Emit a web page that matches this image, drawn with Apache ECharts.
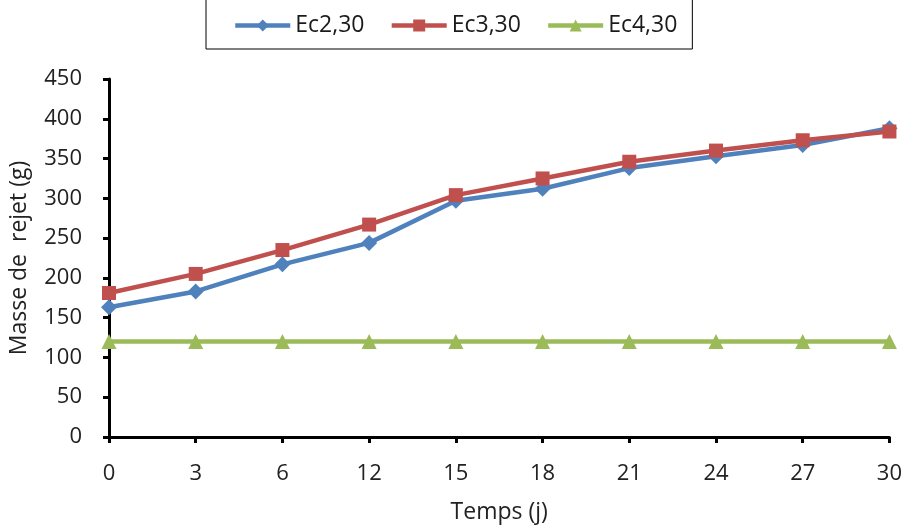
<!DOCTYPE html>
<html><head><meta charset="utf-8">
<script src="https://cdn.jsdelivr.net/npm/echarts@6/dist/echarts.min.js"></script>
<style>html,body{margin:0;padding:0;background:#fff}#c{width:905px;height:529px}</style>
</head><body><div id="c"></div>
<script>
const categories = ['0','3','6','12','15','18','21','24','27','30'];
const ec2 = [163, 183, 217, 244, 297, 312, 338, 353, 367, 388];
const ec3 = [181, 205, 235, 267, 304, 325, 346, 360, 373, 384];
const ec4 = [120, 120, 120, 120, 120, 120, 120, 120, 120, 120];
const seriesNames = ['Ec2,30', 'Ec3,30', 'Ec4,30'];
const yTicks = { min: 0, max: 450, interval: 50 };

const font = "'Open Sans', 'Noto Sans', sans-serif";
const chart = echarts.init(document.getElementById('c'), null, {renderer: 'canvas'});
function mk(name, data, color, symbol, size) {
  return {
    name, type: 'line', data, color, symbol, symbolSize: size,
    lineStyle: { width: 4.5, color }, itemStyle: { color },
    animation: false
  };
}
chart.setOption({
  animation: false,
  textStyle: { fontFamily: font },
  legend: {
    data: seriesNames,
    left: 206, top: -10,
    padding: [24, 15, 12, 27],
    borderColor: '#000', borderWidth: 1,
    itemWidth: 55, itemHeight: 15, itemGap: 25,
    lineStyle: { width: 4.5 },
    textStyle: { fontSize: 23, color: '#1a1a1a', fontFamily: font }
  },
  grid: { left: 109, right: 15, top: 79, bottom: 90, containLabel: false },
  xAxis: {
    type: 'category', data: categories, boundaryGap: false,
    name: 'Temps (j)', nameLocation: 'middle', nameGap: 64,
    nameTextStyle: { fontSize: 23, color: '#222' },
    axisLine: { lineStyle: { color: '#000', width: 3 } },
    axisTick: { show: true, alignWithLabel: true, length: 6, lineStyle: { width: 3, color: '#000' } },
    axisLabel: { fontSize: 22, color: '#222', margin: 26 },
    splitLine: { show: false }
  },
  yAxis: {
    type: 'value', min: yTicks.min, max: yTicks.max, interval: yTicks.interval,
    name: 'Masse de  rejet (g)', nameLocation: 'middle', nameGap: 78,
    nameTextStyle: { fontSize: 23, color: '#222' },
    axisLine: { show: true, lineStyle: { color: '#000', width: 3 } },
    axisTick: { show: true, length: 6, lineStyle: { width: 3, color: '#000' } },
    axisLabel: { fontSize: 22, color: '#222', margin: 27 },
    splitLine: { show: false }
  },
  series: [
    mk(seriesNames[0], ec2, '#4F81BD', 'diamond', 16),
    mk(seriesNames[1], ec3, '#C0504D', 'rect', 14),
    mk(seriesNames[2], ec4, '#9BBB59', 'triangle', 15)
  ]
});
</script></body></html>
